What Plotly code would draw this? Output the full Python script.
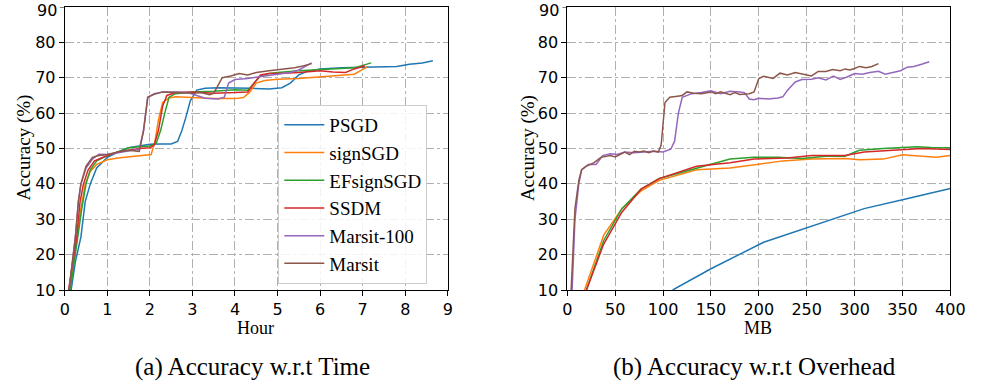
import plotly.graph_objects as go

names = ["PSGD", "signSGD", "EFsignSGD", "SSDM", "Marsit-100", "Marsit"]
colors = ["#1f77b4", "#ff7f0e", "#2ca02c", "#d62728", "#9467bd", "#8c564b"]
yticks = [10, 20, 30, 40, 50, 60, 70, 80]
ytop = 90

# ---- (a) accuracy vs time (hours) ----
psgd_t = [0.15, 0.25, 0.38, 0.48, 0.6, 0.75, 1.0, 1.25, 1.5, 1.75, 2.0, 2.25, 2.5, 2.65, 2.75, 2.85, 2.95, 3.1, 3.3, 3.6, 4.0, 4.4, 4.8, 5.1, 5.3, 5.5, 5.7, 6.0, 6.5, 7.0, 7.5, 7.8, 8.1, 8.4, 8.65]
psgd_a = [10, 18, 25, 35, 40, 44.5, 47.5, 49, 50.2, 50.8, 51.2, 51.3, 51.3, 52, 55, 59, 63.5, 66.5, 67, 67.2, 67.2, 67, 66.8, 67.2, 68.5, 70.8, 71.8, 72.5, 72.8, 73, 73.1, 73.2, 73.8, 74.2, 74.8]

sign_t = [0.11, 0.28, 0.38, 0.48, 0.6, 0.75, 1.0, 1.25, 1.5, 1.75, 2.03, 2.12, 2.2, 2.3, 2.45, 2.6, 3.0, 3.5, 4.0, 4.2, 4.35, 4.5, 4.7, 5.0, 5.5, 6.0, 6.5, 6.8, 6.95, 7.1]
sign_a = [10, 25, 33, 40, 43.5, 45.5, 46.8, 47.3, 47.6, 48, 48.3, 52, 58, 63, 64.3, 64.6, 64.3, 64.1, 64.1, 64.4, 66, 68.5, 69.2, 69.6, 69.8, 70.2, 70.7, 71, 72, 73]

ef_t = [0.13, 0.3, 0.4, 0.5, 0.6, 0.75, 1.0, 1.25, 1.5, 1.75, 2.0, 2.15, 2.25, 2.35, 2.45, 2.6, 2.8, 3.0, 3.5, 4.0, 4.3, 4.45, 4.6, 4.8, 5.0, 5.5, 6.0, 6.5, 6.8, 7.0, 7.2]
ef_a = [10, 25, 33, 40, 44, 46.5, 48, 49, 50.2, 50.5, 50.7, 51.5, 55, 60, 64.5, 65.5, 65.8, 66, 66.2, 66.6, 66.5, 68.5, 70.5, 71.2, 71.5, 72, 72.3, 72.5, 72.8, 73.5, 74.2]

ssdm_t = [0.09, 0.28, 0.36, 0.44, 0.55, 0.7, 1.0, 1.25, 1.5, 1.75, 2.0, 2.1, 2.2, 2.3, 2.4, 2.6, 3.0, 3.5, 4.0, 4.3, 4.45, 4.6, 4.8, 5.0, 5.5, 6.0, 6.3, 6.6, 6.8, 7.05]
ssdm_a = [10, 25, 35, 40, 44, 46.5, 48, 49, 49.5, 50, 50.2, 51, 55, 62, 65, 65.8, 66, 65.6, 65.8, 66, 68.5, 70.8, 71.2, 71.2, 71.5, 72, 71.6, 71.5, 72.5, 73.4]

m100_t = [0.1, 0.25, 0.32, 0.38, 0.5, 0.65, 0.8, 1.0, 1.25, 1.5, 1.75, 1.85, 1.95, 2.1, 2.3, 2.6, 2.9, 3.1, 3.3, 3.6, 3.75, 3.85, 4.0, 4.3, 4.6, 5.0, 5.3, 5.5, 5.7, 5.8]
m100_a = [10, 25, 35, 40, 44.5, 47, 48.4, 48.3, 48.8, 49.3, 49.8, 55, 64.5, 65.5, 66, 66, 65.8, 65, 64.2, 64, 64.5, 68.5, 69.5, 69.8, 70.3, 71, 71.5, 72.2, 73.5, 74.2]

mars_t = [0.1, 0.25, 0.32, 0.38, 0.5, 0.65, 0.8, 1.0, 1.25, 1.5, 1.75, 1.85, 1.95, 2.1, 2.3, 2.6, 3.0, 3.2, 3.4, 3.5, 3.6, 3.7, 3.9, 4.1, 4.3, 4.5, 4.8, 5.1, 5.4, 5.6, 5.8]
mars_a = [10, 25, 35, 40, 45, 47.5, 48, 48.3, 49, 49.5, 49.2, 55, 64.5, 65.3, 66, 65.8, 65.6, 65.8, 65.2, 65.6, 68, 70, 70.5, 71.2, 70.8, 71.5, 72, 72.3, 72.8, 73.3, 74]

# ---- (b) accuracy vs overhead (MB) ----
psgd_mb = [110, 150, 205, 255, 310, 350, 400]
psgd_b = [10, 16, 23.5, 28, 33, 35.5, 38.7]

sign_mb = [18, 38, 57, 77, 96, 135, 170, 195, 225, 255, 290, 305, 330, 350, 370, 385, 400]
sign_b = [10, 25.5, 33, 38, 41, 44, 44.5, 45.5, 46.5, 47, 47.2, 46.8, 47, 48.2, 47.7, 47.5, 48]

ef_mb = [20, 38, 57, 77, 96, 135, 170, 195, 220, 245, 270, 290, 305, 330, 350, 365, 380, 400]
ef_b = [10, 24, 33, 38.5, 41.5, 44.5, 47, 47.5, 47.5, 47.2, 47.8, 47.8, 49.5, 50, 50.3, 50.5, 50.3, 50.2]

ssdm_mb = [20, 38, 57, 77, 96, 135, 170, 195, 230, 255, 270, 290, 310, 340, 370, 400]
ssdm_b = [10, 23, 32, 38.5, 41.5, 45, 46, 47, 47.3, 48, 48, 48, 49, 49.5, 50, 49.7]

m100_mb = [5, 8, 12, 15, 22, 30, 37, 45, 52, 60, 70, 80, 90, 100, 108, 112, 116, 120, 130, 140, 150, 160, 170, 180, 185, 190, 195, 200, 210, 220, 225, 230, 238, 245, 255, 262, 270, 278, 285, 292, 300, 308, 316, 325, 332, 340, 348, 355, 362, 370, 378]
m100_b = [10, 30, 40, 44, 45.5, 45.5, 48, 48.5, 48.3, 49, 48.8, 49, 49.2, 49, 49.8, 52, 60, 64.5, 65.5, 65.8, 66.3, 65.5, 66.2, 66, 65.8, 64, 63.8, 64.2, 64, 64.3, 64.6, 66.5, 68.8, 69.5, 69.6, 70, 69.4, 70.5, 69.5, 70.2, 71.2, 71, 71.5, 71.8, 71, 71.5, 72, 73, 73.2, 73.8, 74.5]

mars_mb = [4, 8, 12, 15, 20, 28, 35, 40, 45, 50, 55, 60, 65, 70, 75, 80, 85, 90, 95, 98, 102, 107, 115, 120, 125, 132, 140, 150, 155, 160, 170, 175, 180, 190, 195, 200, 205, 210, 215, 222, 230, 238, 245, 255, 262, 270, 277, 285, 290, 295, 300, 305, 312, 318, 325]
mars_b = [10, 33, 41, 44, 45, 46, 47.5, 47.8, 48, 47.6, 48.3, 49, 48.3, 49.2, 49, 49.3, 48.8, 49.3, 49, 51, 63, 64.5, 64.8, 65, 66, 65.6, 65.5, 66, 65.5, 66, 65.2, 65.8, 65.3, 65.5, 66, 69.8, 70.4, 70.2, 69.8, 71.3, 70.8, 71.5, 71, 70.5, 71.8, 71.8, 72.3, 72, 72.5, 72.2, 72.6, 73.2, 72.8, 73.2, 74]

left = [(psgd_t, psgd_a), (sign_t, sign_a), (ef_t, ef_a), (ssdm_t, ssdm_a), (m100_t, m100_a), (mars_t, mars_a)]
right = [(psgd_mb, psgd_b), (sign_mb, sign_b), (ef_mb, ef_b), (ssdm_mb, ssdm_b), (m100_mb, m100_b), (mars_mb, mars_b)]

fig = go.Figure()
for i, (x, y) in enumerate(left):
    fig.add_trace(go.Scatter(x=x, y=y, mode="lines", name=names[i],
                             line=dict(color=colors[i], width=1.5),
                             xaxis="x", yaxis="y", showlegend=True))
for i, (x, y) in enumerate(right):
    fig.add_trace(go.Scatter(x=x, y=y, mode="lines", name=names[i],
                             line=dict(color=colors[i], width=1.5),
                             xaxis="x2", yaxis="y2", showlegend=False))

W, H = 982, 385
top, bottom = 7, 290
ph = bottom - top

def py(p):
    return (bottom - p) / ph

tickfont = dict(family="DejaVu Sans", size=16, color="black")
axis_common = dict(showline=True, linecolor="black", linewidth=1, mirror=True,
                   ticks="outside", ticklen=5, tickcolor="black", tickfont=tickfont,
                   showgrid=True, gridcolor="#b0b0b0", griddash="dashdot", gridwidth=1,
                   zeroline=False)

fig.update_layout(
    width=W, height=H,
    margin=dict(l=0, r=0, t=top, b=H - bottom),
    paper_bgcolor="white", plot_bgcolor="white",
    xaxis=dict(domain=[61 / W, 452 / W], range=[0, 9], dtick=1, anchor="y", **axis_common),
    yaxis=dict(domain=[0, 1], range=[10, 90], tickvals=yticks, anchor="x", **axis_common),
    xaxis2=dict(domain=[574 / W, 965 / W], range=[0, 400], dtick=50, anchor="y2", **axis_common),
    yaxis2=dict(domain=[0, 1], range=[10, 90], tickvals=yticks, anchor="x2", **axis_common),
    legend=dict(x=279 / W, y=py(105), xanchor="left", yanchor="top",
                bgcolor="rgba(255,255,255,0.85)", bordercolor="#cccccc", borderwidth=1,
                font=dict(family="Liberation Serif", size=19, color="black"),
                tracegroupgap=0, itemwidth=40),
    showlegend=True,
)

# top tick (90) of each y axis: tick mark + label (plotly drops labels touching the page edge)
for yr, xpix in [("y", 61), ("y2", 574)]:
    fig.add_annotation(text=str(ytop), x=(xpix - 7) / W, y=py(0), xref="paper", yref="paper",
                       xanchor="right", yanchor="top", showarrow=False, borderpad=0,
                       font=tickfont)
    fig.add_shape(type="line", xref="paper", yref=yr, x0=(xpix - 5) / W, x1=xpix / W,
                  y0=ytop, y1=ytop, line=dict(color="black", width=1))

serif = "Liberation Serif"
ann = [
    dict(text="Hour", x=256 / W, y=py(328), size=18),
    dict(text="MB", x=769 / W, y=py(328), size=18),
    dict(text="(a) Accuracy w.r.t Time", x=253 / W, y=py(367), size=25),
    dict(text="(b) Accuracy w.r.t Overhead", x=765 / W, y=py(367), size=25),
]
for a in ann:
    fig.add_annotation(text=a["text"], x=a["x"], y=a["y"], xref="paper", yref="paper",
                       xanchor="center", yanchor="middle", showarrow=False,
                       font=dict(family=serif, size=a["size"], color="black"))
for xp in [19, 534]:
    fig.add_annotation(text="Accuracy (%)", x=xp / W, y=py(148), xref="paper", yref="paper",
                       xanchor="center", yanchor="middle", showarrow=False, textangle=-90,
                       font=dict(family=serif, size=19, color="black"))

fig.write_html("out.html")
